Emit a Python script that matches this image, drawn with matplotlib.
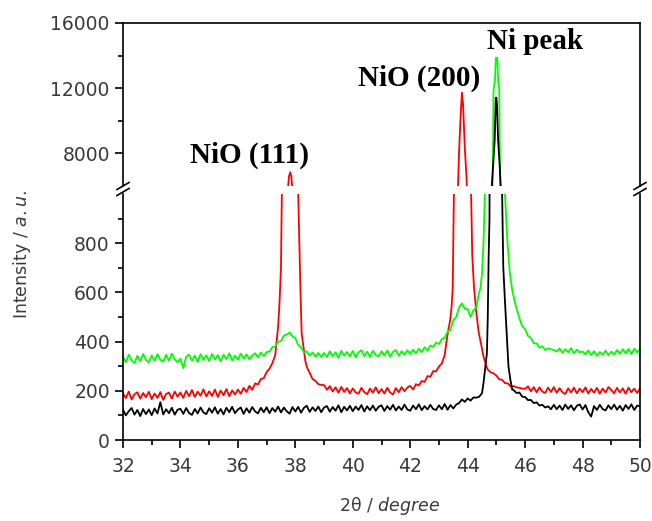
import numpy as np
import matplotlib.pyplot as plt
from matplotlib.lines import Line2D

# 2theta grid (0.1 deg) for the background parts of the patterns
two_theta = np.round(np.arange(32.0, 50.0001, 0.1), 1)

red_base = [
    190, 170, 197, 165, 186, 194, 168, 191, 174, 196,
    166, 189, 171, 195, 163, 187, 193, 168, 197, 176,
    193, 171, 200, 178, 203, 175, 197, 180, 206, 177,
    198, 179, 205, 175, 201, 182, 207, 178, 202, 185,
    205, 188, 212, 195, 220, 204, 230, 226, 248, 251,
    276, 290, 312, 345, 459, 700, 3000, 6000, 6500, 3000,
    1500, 1000, 600, 380, 297, 272, 248, 240, 227, 224,
    223, 204, 219, 197, 214, 192, 216, 195, 211, 189,
    210, 193, 188, 212, 195, 186, 209, 192, 214, 190,
    207, 189, 212, 193, 185, 211, 194, 215, 198, 213,
    220, 205, 227, 221, 240, 236, 260, 257, 280, 279,
    299, 311, 345, 420, 500, 620, 5000, 11000, 8000, 3000,
    1000, 700, 600, 450, 400, 340, 300, 286, 275, 271,
    262, 246, 245, 231, 230, 217, 219, 214, 212, 209,
    208, 218, 198, 215, 194, 214, 197, 191, 213, 195,
    215, 192, 211, 194, 187, 210, 193, 213, 190, 209,
    194, 214, 189, 208, 192, 212, 188, 209, 193, 215,
    203, 190, 212, 193, 210, 188, 213, 194, 209, 191,
    210,
]

green_base = [
    340, 316, 347, 323, 312, 342, 320, 350, 325, 315,
    344, 321, 349, 326, 318, 346, 323, 351, 328, 316,
    331, 292, 339, 347, 322, 343, 317, 349, 325, 344,
    321, 350, 327, 345, 319, 347, 329, 352, 323, 343,
    326, 351, 331, 348, 328, 344, 353, 336, 356, 341,
    358, 359, 378, 380, 399, 402, 424, 428, 437, 421,
    414, 386, 376, 356, 360, 343, 356, 339, 354, 337,
    354, 337, 361, 341, 357, 334, 363, 343, 358, 339,
    362, 336, 356, 365, 341, 359, 337, 363, 345, 340,
    361, 343, 364, 338, 358, 366, 342, 361, 346, 365,
    349, 367, 352, 371, 357, 377, 363, 384, 379, 395,
    390, 410, 416, 440, 448, 486, 500, 538, 556, 533,
    532, 500, 527, 538, 600, 678, 1000, 3000, 6000, 12000,
    13800, 12000, 6000, 1000, 800, 678, 556, 515, 495, 462,
    451, 423, 415, 393, 393, 375, 381, 366, 373, 369,
    366, 359, 372, 354, 369, 357, 374, 352, 367, 356,
    360, 348, 364, 345, 361, 342, 358, 346, 363, 344,
    359, 347, 366, 350, 369, 352, 370, 349, 371, 356,
    370,
]

black_base = [
    123, 100, 117, 130, 103, 122, 97, 126, 105, 124,
    101, 128, 108, 154, 104, 125, 109, 131, 103, 123,
    127, 106, 130, 110, 102, 126, 108, 132, 112, 105,
    129, 111, 133, 107, 126, 104, 131, 113, 135, 109,
    124, 132, 106, 129, 111, 134, 116, 108, 131, 113,
    133, 109, 130, 115, 136, 112, 132, 117, 107, 134,
    116, 135, 111, 131, 139, 114, 133, 118, 136, 113,
    132, 138, 115, 134, 119, 141, 113, 135, 120, 139,
    117, 136, 122, 142, 116, 137, 121, 140, 119, 135,
    141, 118, 138, 123, 143, 120, 136, 122, 144, 124,
    119, 140, 125, 145, 121, 138, 124, 143, 126, 122,
    141, 125, 146, 123, 142, 128, 144, 150, 165, 155,
    169, 160, 173, 172, 176, 190, 350, 900, 8000, 11000,
    11000, 7000, 1000, 560, 300, 205, 203, 191, 193, 176,
    175, 162, 163, 150, 153, 140, 143, 132, 137, 125,
    143, 125, 140, 122, 144, 126, 141, 121, 139, 145,
    124, 142, 113, 95, 138, 122, 143, 126, 120, 141,
    125, 144, 123, 139, 119, 142, 126, 145, 122, 140,
    137,
]

# finer points around the peaks
red_111_x = [37.30, 37.35, 37.40, 37.45, 37.50, 37.53, 37.60, 37.70, 37.78, 37.82,
             37.86, 37.95, 38.05, 38.10, 38.14, 38.18, 38.22, 38.28, 38.35]
red_111_y = [345, 400, 459, 560, 700, 1000, 2500, 5000, 6600, 6840,
             6600, 4500, 2000, 1000, 800, 600, 434, 380, 320]

red_200_x = [43.20, 43.27, 43.33, 43.39, 43.44, 43.48, 43.52, 43.58, 43.66, 43.70,
             43.76, 43.80, 43.84, 43.90, 43.96, 44.00, 44.06, 44.12, 44.16, 44.22,
             44.30, 44.38, 44.45, 44.55, 44.65]
red_200_y = [345, 406, 450, 487, 540, 617, 1000, 2500, 5800, 8060,
             10500, 11725, 11000, 8370, 6500, 4500, 2200, 1000, 750, 621,
             520, 440, 400, 340, 300]

green_ni_x = [44.45, 44.50, 44.55, 44.60, 44.70, 44.80, 44.87, 44.90, 44.95, 44.98,
              45.03, 45.06, 45.10, 45.13, 45.18, 45.24, 45.30, 45.34, 45.40, 45.47,
              45.55, 45.65, 45.75]
green_ni_y = [620, 678, 800, 1000, 2500, 4500, 6000, 11900, 12500, 13860,
              13860, 12500, 11900, 6000, 3500, 1800, 1000, 900, 780, 678,
              610, 556, 515]

black_ni_x = [44.55, 44.62, 44.67, 44.70, 44.73, 44.76, 44.80, 44.84, 44.88, 44.94,
              44.98, 45.00, 45.02, 45.06, 45.12, 45.15, 45.18, 45.20, 45.24, 45.30,
              45.36, 45.42, 45.48, 45.55]
black_ni_y = [231, 300, 353, 500, 743, 900, 3500, 6000, 7100, 8800,
              11420, 11420, 11000, 8800, 7100, 6000, 3000, 1000, 703, 560,
              434, 300, 250, 205]


def merge(base, details):
    """Replace the grid points inside each peak window with the fine peak points."""
    x = two_theta.copy()
    y = np.asarray(base, dtype=float)
    keep = np.ones(len(x), dtype=bool)
    for dx, dy in details:
        keep &= ~((x >= dx[0] - 1e-9) & (x <= dx[-1] + 1e-9))
    xs = np.concatenate([x[keep]] + [np.asarray(d[0], float) for d in details])
    ys = np.concatenate([y[keep]] + [np.asarray(d[1], float) for d in details])
    order = np.argsort(xs)
    return xs[order], ys[order]


series = [
    ("red", merge(red_base, [(red_111_x, red_111_y), (red_200_x, red_200_y)])),
    ("#00ff00", merge(green_base, [(green_ni_x, green_ni_y)])),
    ("black", merge(black_base, [(black_ni_x, black_ni_y)])),
]

W, H = 652, 521
fig = plt.figure(figsize=(W / 100, H / 100), dpi=100)

left, right = 123, 640
lo_top, lo_bot = 194, 440
hi_top, hi_bot = 23, 186
ax_lo = fig.add_axes([left / W, 1 - lo_bot / H, (right - left) / W, (lo_bot - lo_top) / H])
ax_hi = fig.add_axes([left / W, 1 - hi_bot / H, (right - left) / W, (hi_bot - hi_top) / H])

for ax in (ax_lo, ax_hi):
    for color, (x, y) in series:
        ax.plot(x, y, color=color, lw=1.3)
    ax.set_xlim(32, 50)
    for s in ax.spines.values():
        s.set_linewidth(1.2)
    ax.tick_params(which="both", direction="out", width=1.2, labelsize=13.5,
                   labelcolor="#3a3a3a", right=False, top=False)
    ax.tick_params(which="major", length=6)
    ax.tick_params(which="minor", length=3.5)

ax_lo.set_ylim(0, 1000)
ax_lo.set_yticks(np.arange(0, 801, 200))
ax_lo.set_yticks(np.arange(100, 901, 200), minor=True)
ax_lo.set_xticks(np.arange(32, 51, 2))
ax_lo.set_xticks(np.arange(33, 50, 2), minor=True)
ax_lo.spines["top"].set_visible(False)
ax_lo.tick_params(axis="x", pad=6)

ax_hi.set_ylim(6000, 16000)
ax_hi.set_yticks([8000, 12000, 16000])
ax_hi.set_yticks([10000, 14000], minor=True)
ax_hi.spines["bottom"].set_visible(False)
ax_hi.tick_params(axis="x", which="both", bottom=False, labelbottom=False)

# axis break marks
for xp in (left, right):
    for yp in (186, 192):
        fig.add_artist(Line2D([(xp - 6) / W, (xp + 6) / W],
                              [1 - (yp + 3.5) / H, 1 - (yp - 3.5) / H],
                              color="black", lw=1.2))

# peak labels
lab_font = dict(family="Liberation Serif", weight="bold", fontsize=21, ha="center", va="baseline")
ax_hi.text(36.42, 7411, "NiO (111)", **lab_font)
ax_hi.text(42.31, 12135, "NiO (200)", **lab_font)
ax_hi.text(46.33, 14405, "Ni peak", **lab_font)

fig.text(22 / W, 1 - 255 / H, r"Intensity / $\mathit{a.u.}$", rotation=90,
         ha="center", va="center", fontsize=12.5, color="#3a3a3a")
fig.text(390 / W, 1 - 506 / H, r"2θ $\mathit{/\ degree}$",
         ha="center", va="center", fontsize=12.5, color="#3a3a3a")

fig.savefig("out.png", dpi=100)
